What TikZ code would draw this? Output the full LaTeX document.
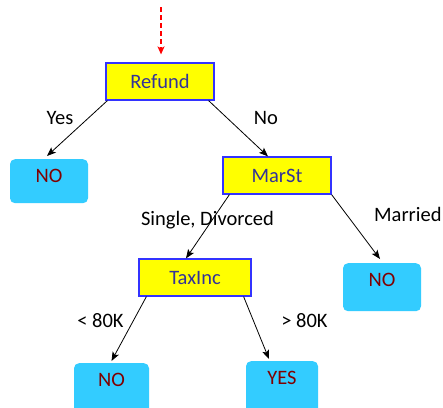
\documentclass[tikz,border=0pt]{standalone}
\usepackage{fontspec}
\setmainfont{Carlito}
\usetikzlibrary{arrows.meta}
\definecolor{boxyellow}{RGB}{255,255,0}
\definecolor{boxblue}{RGB}{51,51,255}
\definecolor{boxtext}{RGB}{51,51,153}
\definecolor{leafcyan}{RGB}{51,204,255}
\definecolor{leaftext}{RGB}{128,0,0}
\definecolor{redarrow}{RGB}{255,0,0}
\tikzset{
  attr/.style={draw=boxblue, line width=1.2pt, fill=boxyellow, text=boxtext,
    minimum height=37pt, inner sep=0pt, text height=13.2pt, text depth=0pt,
    font=\fontsize{20.5}{24}\selectfont},
  leaf/.style={fill=leafcyan, rounded corners=5pt, text=leaftext, anchor=north,
    inner xsep=0pt, inner ysep=0pt, text height=23.6pt,
    font=\fontsize{20.5}{24}\selectfont},
  lbl/.style={anchor=base, inner sep=0pt, font=\fontsize{20.5}{24}\selectfont},
  arr/.style={-{Stealth[length=9pt,width=7pt,inset=2pt]}, line width=0.8pt, black},
  rarr/.style={-{Stealth[length=8pt,width=7pt,inset=2pt]}, line width=1.2pt, redarrow,
    dash pattern=on 5pt off 3pt}
}
\begin{document}
\begin{tikzpicture}[x=1pt,y=-1pt]
\clip (0,0) rectangle (443,407);
\fill[white] (0,0) rectangle (443,407);

\node[attr, minimum width=108pt] (refund) at (160,81.5) {Refund};
\node[attr, minimum width=108pt] (marst) at (277,175.5) {MarSt};
\node[attr, minimum width=112pt] (taxinc) at (195,277.5) {TaxInc};

\node[leaf, minimum width=78pt, text depth=20.4pt] (no1) at (49,159) {NO};
\node[leaf, minimum width=78pt, text depth=24.4pt] (no2) at (382,263) {NO};
\node[leaf, minimum width=75pt, text depth=30pt] (no3) at (111.5,363) {NO};
\node[leaf, minimum width=72pt, text depth=30pt] (yes) at (282,361) {YES};

\coordinate (start) at (161,7);
\draw[rarr] (start) -- ([xshift=1pt,yshift=8pt]refund.north);

\draw[arr] ([xshift=2pt]refund.south west) -- ([xshift=-2pt,yshift=3pt]no1.north);
\draw[arr] ([xshift=-6pt]refund.south east) -- ([xshift=-9pt]marst.north);
\draw[arr] ([xshift=7pt]marst.south west) -- ([xshift=-9pt]taxinc.north);
\draw[arr] (marst.south east) -- ([xshift=-2pt,yshift=4pt]no2.north);
\draw[arr] ([xshift=8pt]taxinc.south west) -- ([yshift=2pt]no3.north);
\draw[arr] ([xshift=-8pt]taxinc.south east) -- ([xshift=-13pt,yshift=2pt]yes.north);

\node[lbl] (lyes) at (60,124) {Yes};
\node[lbl] (lno) at (266,124) {No};
\node[lbl] (lsd) at (207.5,225) {Single, Divorced};
\node[lbl, anchor=base west] (lmar) at (374,221.5) {Married};
\node[lbl] (llt) at (100.5,327) {< 80K};
\node[lbl] (lgt) at (304.5,327) {> 80K};
\end{tikzpicture}
\end{document}
